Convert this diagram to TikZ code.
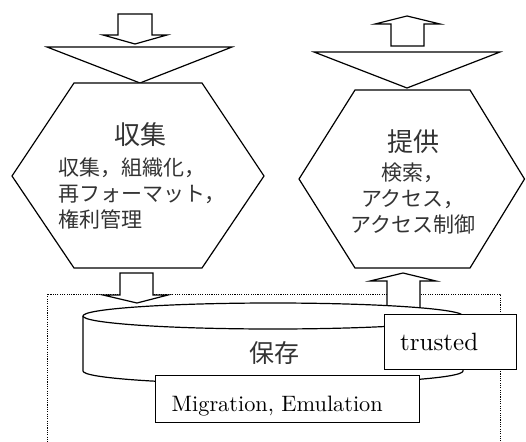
\documentclass[tikz,border=0pt]{standalone}
\usepackage{fontspec}
\newfontfamily\jp{Noto Sans CJK JP}
\newfontfamily\lmten{lmroman10-regular}[Extension=.otf]
\begin{document}
\begin{tikzpicture}[x=1pt,y=-1pt,
  shp/.style={draw=black, fill=white, line width=1.2pt, line join=miter},
  boxst/.style={draw=black, fill=white, line width=1.2pt, inner sep=0pt},
  jpbody/.style={font=\jp\fontsize{21}{25}\selectfont, inner sep=0pt, text=black!80},
  jptitle/.style={font=\jp\fontsize{26}{30}\selectfont, inner sep=0pt, text=black!80},
  lat/.style={inner sep=0pt, text=black}]
\useasboundingbox (0,0) rectangle (526,441);
% dotted frame
\begin{scope}
\clip (0,0) rectangle (526,441);
\draw[line width=1pt, dash pattern=on 1.1pt off 1.2pt] (47,294) rectangle (500,470);
\end{scope}
% top arrows and funnels
\draw[shp] (118,14)--(152,14)--(152,35)--(167,35)--(135,44)--(103,35)--(118,35)--cycle;
\draw[shp] (391,46)--(391,24)--(375,24)--(407,16)--(440,24)--(424,24)--(424,46)--cycle;
\draw[shp] (47,47)--(232,47)--(140,83)--cycle;
\draw[shp] (314,52)--(500,52)--(407,88)--cycle;
% hexagons
\draw[shp] (12,176)--(74,83)--(202,83)--(264,176)--(202,268)--(74,268)--cycle;
\draw[shp] (299,179)--(355,90)--(470,90)--(524.5,179)--(470,268)--(355,268)--cycle;
% middle arrows
\draw[shp] (120,273)--(153,273)--(153,295)--(168,295)--(137,303)--(103,295)--(120,295)--cycle;
\draw[shp] (387,310)--(387,281)--(370,281)--(403,273)--(436,281)--(420,281)--(420,310)--cycle;
% cylinder
\draw[shp] (83,316)--(83,371) arc[start angle=180,end angle=360,x radius=190pt,y radius=13pt]--(463,316);
\draw[shp] (273,316) ellipse [x radius=190pt, y radius=13pt];
\node[jptitle, font=\jp\fontsize{25}{30}\selectfont, anchor=base] (hozon) at (274,362) {保存};
% boxes
\node[boxst, anchor=north west, minimum width=132pt, minimum height=55pt] (tbox) at (384,314) {};
\node[lat, font=\lmten\fontsize{25}{30}\selectfont, anchor=base west] (ttext) at (400,350) {trusted};
\node[boxst, anchor=north west, minimum width=264pt, minimum height=47pt] (mbox) at (155,375) {};
\node[lat, font=\lmten\fontsize{22.3}{27}\selectfont, anchor=base west] (mtext) at (171.5,411.5) {Migration, Emulation};
% left hexagon text
\node[jptitle, anchor=base] (shushu) at (140,144) {収集};
\node[jpbody, anchor=base west] (l1) at (58,175.5) {収集，組織化，};
\node[jpbody, anchor=base west] (l2) at (58,201.5) {再フォーマット，};
\node[jpbody, anchor=base west] (l3) at (58,227.5) {権利管理};
% right hexagon text
\node[jptitle, anchor=base] (teikyo) at (413,151) {提供};
\node[jpbody, anchor=base] (r1) at (413,180) {検索，};
\node[jpbody, anchor=base] (r2) at (413,206) {アクセス，};
\node[jpbody, anchor=base] (r3) at (413,232) {アクセス制御};
\end{tikzpicture}
\end{document}
